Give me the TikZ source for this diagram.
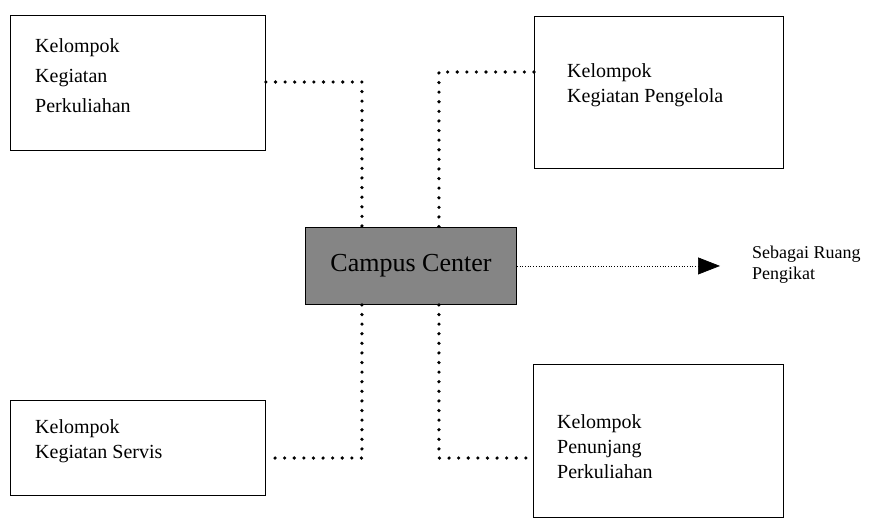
\documentclass[tikz,border=0pt]{standalone}
\usepackage{fontspec}
\setmainfont{Liberation Serif}
\usetikzlibrary{arrows.meta}

\tikzset{
    kotak/.style={draw, line width=0.9pt, anchor=north west, inner sep=0pt},
    teks/.style={anchor=north west, align=left, inner sep=0pt},
    titik/.style={line width=3.6pt, line cap=round, dash pattern=on 0pt off 9.6pt},
}

\begin{document}
\begin{tikzpicture}[x=1pt, y=-1pt]
    \useasboundingbox (0,0) rectangle (896,531);

    % kotak kelompok kegiatan
    \node[kotak, minimum width=255pt, minimum height=135pt] (kuliah) at (10,15) {};
    \node[teks, font=\fontsize{20}{30}\selectfont] (tkuliah) at (35,38) {Kelompok\\Kegiatan\\Perkuliahan};

    \node[kotak, minimum width=249pt, minimum height=152pt] (kelola) at (534,16) {};
    \node[teks, font=\fontsize{20}{25}\selectfont] (tkelola) at (567,63) {Kelompok\\Kegiatan Pengelola};

    \node[kotak, minimum width=255pt, minimum height=95pt] (servis) at (10,400) {};
    \node[teks, font=\fontsize{20}{25}\selectfont] (tservis) at (35,419) {Kelompok\\Kegiatan Servis};

    \node[kotak, minimum width=250pt, minimum height=153pt] (tunjang) at (533,364) {};
    \node[teks, font=\fontsize{20}{25}\selectfont] (ttunjang) at (557,414) {Kelompok\\Penunjang\\Perkuliahan};

    % pusat
    \node[kotak, fill=black!48, minimum width=211pt, minimum height=77pt,
          font=\fontsize{26}{28}\selectfont] (campus) at (305,227) {Campus Center};

    \node[anchor=west, align=left, inner sep=0pt, font=\fontsize{18}{21}\selectfont]
        (ruang) at (752,265) {Sebagai Ruang\\Pengikat};

    % penghubung
    \draw[titik] ([yshift=-67pt]kuliah.north east) -| ([xshift=-49pt]campus.north);
    \draw[titik] ([yshift=-56pt]kelola.north west) -| ([xshift=28pt]campus.north);
    \draw[titik] ([xshift=-49pt]campus.south) |- ([yshift=-58pt]servis.north east);
    \draw[titik] ([xshift=28pt]campus.south) |- ([yshift=-94pt]tunjang.north west);

    \draw[line width=0.7pt, dotted, -{Triangle[length=22pt, width=17pt]}, shorten >=32pt]
        (campus.east) -- (campus.east -| ruang.west);
\end{tikzpicture}
\end{document}
